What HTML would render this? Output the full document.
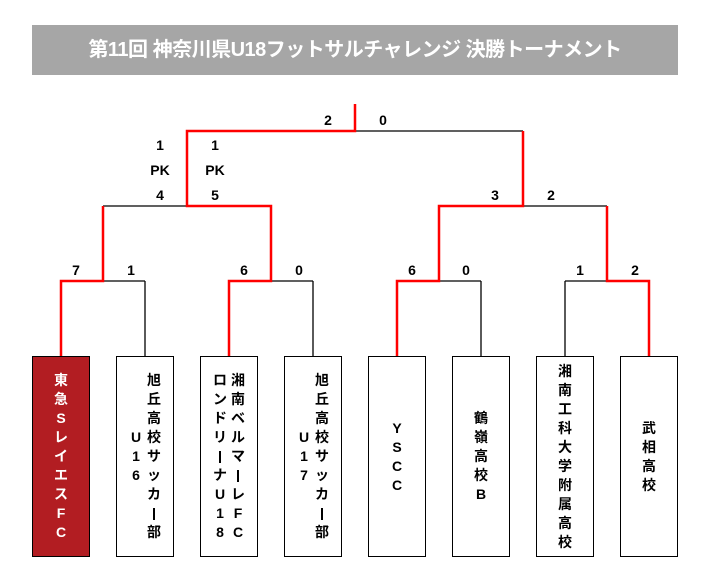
<!DOCTYPE html>
<html><head><meta charset="utf-8"><style>
body{margin:0;width:711px;height:582px;background:#fff;position:relative;overflow:hidden;font-family:"Liberation Sans","Noto Sans CJK JP",sans-serif;}
.title{position:absolute;left:32px;top:25px;width:646px;height:50px;background:#a6a6a6;color:#fff;font-weight:bold;font-size:20px;line-height:50px;text-align:center;letter-spacing:-0.5px;}
.s{position:absolute;font-weight:bold;font-size:14px;width:20px;margin-left:-10px;text-align:center;line-height:16px;color:#000;}
.box{position:absolute;top:356px;width:56px;height:199px;border:1.5px solid #000;display:flex;flex-direction:row-reverse;justify-content:center;align-items:center;gap:4px;}
.col{display:flex;flex-direction:column;align-items:center;}
.col span{display:block;height:19px;line-height:19px;font-size:14px;font-weight:bold;width:14px;text-align:center;}
.v{display:inline-block;width:2px;height:12px;background:currentColor;vertical-align:middle;}
</style></head><body>
<div class="title">第11回 神奈川県U18フットサルチャレンジ 決勝トーナメント</div>
<svg width="711" height="582" style="position:absolute;left:0;top:0">
<g stroke="#000" stroke-width="1.3" fill="none">
<line x1="103" y1="281" x2="145" y2="281"/><line x1="145" y1="281" x2="145" y2="356"/>
<line x1="271" y1="281" x2="313" y2="281"/><line x1="313" y1="281" x2="313" y2="356"/>
<line x1="439" y1="281" x2="481" y2="281"/><line x1="481" y1="281" x2="481" y2="356"/>
<line x1="565" y1="281" x2="607" y2="281"/><line x1="565" y1="281" x2="565" y2="356"/>
<line x1="103" y1="206" x2="187" y2="206"/>
<line x1="523" y1="206" x2="607" y2="206"/>
<line x1="355" y1="131" x2="523" y2="131"/>
</g>
<g stroke="#f00" stroke-width="2.5" fill="none">
<polyline points="61,356 61,281 103,281 103,206"/>
<polyline points="229,356 229,281 271,281 271,206 187,206 187,131 355,131 355,104"/>
<polyline points="397,356 397,281 439,281 439,206 523,206 523,131"/>
<polyline points="649,356 649,281 607,281 607,206"/>
</g>
</svg>
<div class="s" style="left:328px;top:112px">2</div>
<div class="s" style="left:383px;top:112px">0</div>
<div class="s" style="left:160px;top:137px">1</div>
<div class="s" style="left:160px;top:162px">PK</div>
<div class="s" style="left:160px;top:187px">4</div>
<div class="s" style="left:215px;top:137px">1</div>
<div class="s" style="left:215px;top:162px">PK</div>
<div class="s" style="left:215px;top:187px">5</div>
<div class="s" style="left:495px;top:187px">3</div>
<div class="s" style="left:551px;top:187px">2</div>
<div class="s" style="left:76px;top:262px">7</div>
<div class="s" style="left:131px;top:262px">1</div>
<div class="s" style="left:244px;top:262px">6</div>
<div class="s" style="left:299px;top:262px">0</div>
<div class="s" style="left:412px;top:262px">6</div>
<div class="s" style="left:466px;top:262px">0</div>
<div class="s" style="left:580px;top:262px">1</div>
<div class="s" style="left:635px;top:262px">2</div>

<div class="box" style="left:32px;background:#b21d22;color:#fff"><div class="col"><span>東</span><span>急</span><span>S</span><span>レ</span><span>イ</span><span>エ</span><span>ス</span><span>F</span><span>C</span></div></div>
<div class="box" style="left:116px"><div class="col"><span>旭</span><span>丘</span><span>高</span><span>校</span><span>サ</span><span>ッ</span><span>カ</span><span><i class="v"></i></span><span>部</span></div><div class="col"><span></span><span></span><span></span><span>U</span><span>1</span><span>6</span><span></span><span></span><span></span></div></div>
<div class="box" style="left:200px"><div class="col"><span>湘</span><span>南</span><span>ベ</span><span>ル</span><span>マ</span><span><i class="v"></i></span><span>レ</span><span>F</span><span>C</span></div><div class="col"><span>ロ</span><span>ン</span><span>ド</span><span>リ</span><span><i class="v"></i></span><span>ナ</span><span>U</span><span>1</span><span>8</span></div></div>
<div class="box" style="left:284px"><div class="col"><span>旭</span><span>丘</span><span>高</span><span>校</span><span>サ</span><span>ッ</span><span>カ</span><span><i class="v"></i></span><span>部</span></div><div class="col"><span></span><span></span><span></span><span>U</span><span>1</span><span>7</span><span></span><span></span><span></span></div></div>
<div class="box" style="left:368px"><div class="col"><span>Y</span><span>S</span><span>C</span><span>C</span></div></div>
<div class="box" style="left:452px"><div class="col"><span>鶴</span><span>嶺</span><span>高</span><span>校</span><span>B</span></div></div>
<div class="box" style="left:536px"><div class="col"><span>湘</span><span>南</span><span>工</span><span>科</span><span>大</span><span>学</span><span>附</span><span>属</span><span>高</span><span>校</span></div></div>
<div class="box" style="left:620px"><div class="col"><span>武</span><span>相</span><span>高</span><span>校</span></div></div>
</body></html>
